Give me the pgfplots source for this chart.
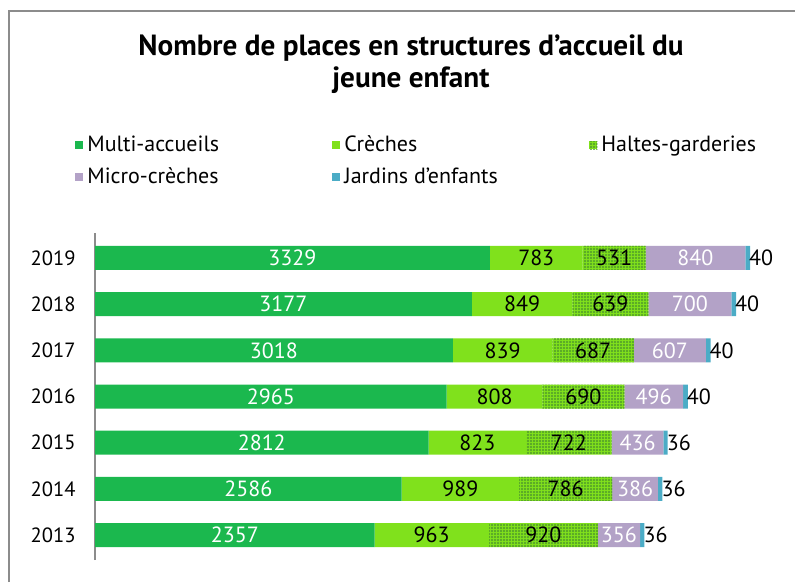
\documentclass[border=0pt]{standalone}
\usepackage{pgfplots}
\pgfplotsset{compat=1.18}
\usepackage{fontspec}
\setmainfont{PT Sans}
\usetikzlibrary{patterns.meta}

\definecolor{cMulti}{HTML}{1BB84E}
\definecolor{cCreche}{HTML}{80E11C}
\definecolor{cHalteDot}{HTML}{4F9A2C}
\definecolor{cMicro}{HTML}{B3A2C7}
\definecolor{cJardin}{HTML}{4BACC6}
\definecolor{cFrame}{HTML}{8C8C8C}

\newcommand{\lab}{\fontsize{11}{13}\selectfont}
\newcommand{\tck}{\fontsize{10.3}{12}\selectfont}
\newcommand{\leg}{\fontsize{11}{13}\selectfont}

\begin{document}
\begin{tikzpicture}
\useasboundingbox (-47.5pt,-11pt) rectangle (350pt,280pt);
\draw[line width=1.3pt, cFrame] (-43pt,-11pt) -- (-43pt,274.5pt) -- (350pt,274.5pt);
\node[align=center, font=\fontsize{14.6}{16}\selectfont\bfseries] at (158pt,248pt)
  {Nombre de places en structures d'accueil du\\jeune enfant};

\begin{axis}[
  at={(0pt,0pt)}, anchor=south west,
  scale only axis, width=345pt, height=163.5pt,
  xbar stacked, bar width=12pt,
  xmin=0, xmax=5818, ymin=-0.54, ymax=6.54,
  /pgf/number format/assume math mode=true,
  /pgf/number format/1000 sep={},
  axis x line=none,
  axis y line*=left,
  y axis line style={cFrame, line width=0.8pt, -},
  ytick={0,1,2,3,4,5,6},
  yticklabels={2013,2014,2015,2016,2017,2018,2019},
  ytick style={draw=none},
  yticklabel style={font=\tck, anchor=east, inner sep=0pt, xshift=-9.5pt},
  legend columns=3,
  legend style={at={(-0.029,1.31)}, anchor=north west, draw=none, fill=none,
    inner sep=0pt, font=\leg, row sep=2.5pt,
    /tikz/every even column/.append style={column sep=0pt}},
  legend cell align=left,
  legend image code/.code={\path[#1, draw=none] (0pt,-2pt) rectangle (4pt,2pt);},
  every axis plot/.append style={draw=none},
]
\addplot[fill=cMulti, nodes near coords,
  every node near coord/.append style={font=\lab, text=white, anchor=center}]
  coordinates {(2357,0) (2586,1) (2812,2) (2965,3) (3018,4) (3177,5) (3329,6)};
\addplot[fill=cCreche, nodes near coords,
  every node near coord/.append style={font=\lab, text=black, anchor=center}]
  coordinates {(963,0) (989,1) (823,2) (808,3) (839,4) (849,5) (783,6)};
\addplot[fill=cCreche, postaction={pattern={Dots[distance=1.5pt, radius=0.55pt]}, pattern color=cHalteDot},
  nodes near coords,
  every node near coord/.append style={font=\lab, text=black, anchor=center}]
  coordinates {(920,0) (786,1) (722,2) (690,3) (687,4) (639,5) (531,6)};
\addplot[fill=cMicro, nodes near coords,
  every node near coord/.append style={font=\lab, text=white, anchor=center}]
  coordinates {(356,0) (386,1) (436,2) (496,3) (607,4) (700,5) (840,6)};
\addplot[fill=cJardin, nodes near coords,
  every node near coord/.append style={font=\lab, text=black, anchor=west, inner sep=0.5pt}]
  coordinates {(36,0) (36,1) (36,2) (40,3) (40,4) (40,5) (40,6)};
\legend{\makebox[120.5pt][l]{Multi-accueils},\makebox[120.5pt][l]{Crèches},\makebox[120.5pt][l]{Haltes-garderies},
  \makebox[120.5pt][l]{Micro-crèches},\makebox[120.5pt][l]{Jardins d'enfants}}
\end{axis}
\end{tikzpicture}
\end{document}
